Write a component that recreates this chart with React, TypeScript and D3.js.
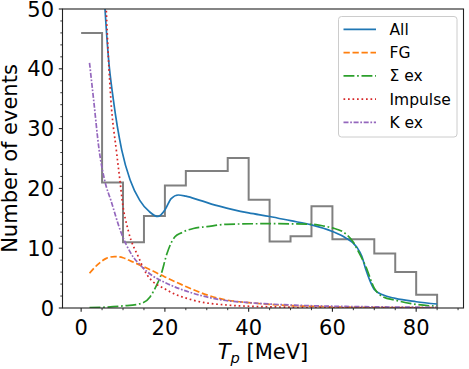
import React from "react";
import * as d3 from "d3";

const binEdges = [0, 5, 10, 15, 20, 25, 30, 35, 40, 45, 50, 55, 60, 65, 70, 75, 80, 85];
const histValues = [46, 21, 11, 15.4, 20.5, 22.9, 22.9, 25.1, 18.1, 11.1, 12.0, 17.0, 11.5, 11.5, 9.1, 6.0, 2.2];

const allT = [5.2, 5.7, 6.5, 7.7, 9.7, 11.7, 14.0, 16.3, 18.3, 20.0, 21.5, 23.2, 25, 28.4, 32, 36, 40, 45, 50, 55, 60, 63, 65.8, 67, 68, 69, 70, 72, 75, 80, 85];
const allY = [56, 50, 42, 34.8, 26.4, 21.4, 18.0, 16.1, 15.3, 16.4, 18.3, 18.9, 18.7, 18.0, 17.2, 16.5, 15.9, 15.3, 14.6, 13.9, 12.8, 11.8, 10.2, 8.7, 6.4, 4.5, 3.1, 2.2, 1.6, 1.05, 0.67];

const fgT = [2, 4, 6, 8, 10, 12, 15, 20, 25, 30, 35, 40, 45, 50, 60, 70, 85];
const fgY = [5.8, 7.3, 8.3, 8.6, 8.4, 7.8, 6.9, 5.2, 3.6, 2.2, 1.3, 0.9, 0.6, 0.4, 0.2, 0.1, 0.05];

const sigT = [2, 6, 10, 14, 16.5, 18, 18.9, 20.5, 21.5, 22.4, 24, 26.8, 30, 34.8, 45, 55, 58, 60, 63, 65, 66, 68, 70, 71, 72, 75, 80, 85];
const sigY = [0.05, 0.15, 0.35, 0.7, 1.9, 3.8, 5.2, 9.1, 10.9, 11.9, 12.6, 13.3, 13.6, 14.0, 14.1, 14.0, 13.7, 13.4, 12.5, 11.0, 9.7, 6.9, 3.3, 2.4, 1.9, 1.3, 0.6, 0.3];

const impT = [5.6, 6.0, 6.5, 7.1, 8.4, 9.3, 9.8, 11.3, 13.7, 15.7, 20.5, 26.8, 34.8, 45, 60, 85];
const impY = [58, 50, 42, 34.8, 26.4, 21.1, 18.0, 12.8, 8.5, 5.6, 3.0, 1.3, 0.5, 0.2, 0.07, 0.02];

const kexT = [2, 3.0, 4.3, 5.7, 7.1, 9.6, 12, 14.5, 17, 20.5, 26.8, 34, 40, 50, 60, 70, 85];
const kexY = [41, 34.7, 26.4, 21.1, 18.0, 12.5, 9, 6.9, 5.4, 4.1, 2.45, 1.3, 0.9, 0.5, 0.3, 0.2, 0.1];

const xTicks = [0, 20, 40, 60, 80];
const yTicks = [0, 10, 20, 30, 40, 50];
const legendLabels = ["All", "FG", "Σ ex", "Impulse", "K ex"];

const W = 469, H = 369;
const L = 62.5, R = 463.5, T = 9, B = 308;
const FONT = "DejaVu Sans, sans-serif";

export default function App() {
  const x = d3.scaleLinear().domain([-4.45, 91.3]).range([L, R]);
  const y = d3.scaleLinear().domain([0, 50]).range([B, T]);

  const mk = (ts: number[], vs: number[]) =>
    d3.line<number>().x((_, i) => x(ts[i])).y((v) => y(v)).curve(d3.curveMonotoneX)(vs) || "";

  const histPts: [number, number][] = histValues.map((v, i) => [binEdges[i], v]);
  histPts.push([binEdges[binEdges.length - 1], histValues[histValues.length - 1]]);
  histPts.push([binEdges[binEdges.length - 1], 0]);
  const histPath = d3.line<[number, number]>().x((d) => x(d[0])).y((d) => y(d[1])).curve(d3.curveStepAfter)(histPts) || "";

  const lw = 1.7;
  const series = [
    { d: mk(allT, allY), color: "#1f77b4", dash: "" },
    { d: mk(fgT, fgY), color: "#ff7f0e", dash: "6.3,2.7" },
    { d: mk(sigT, sigY), color: "#2ca02c", dash: "10.9,2.7,1.7,2.7" },
    { d: mk(impT, impY), color: "#d62728", dash: "1.7,2.8" },
    { d: mk(kexT, kexY), color: "#9467bd", dash: "5,1.7,1.7,1.7" },
  ];

  const xMinor = d3.range(-0, 95, 5).filter((v) => x(v) <= R + 0.1 && v % 20 !== 0);
  const yMinor = d3.range(0, 51, 2).filter((v) => v % 10 !== 0);

  return (
    <svg width={W} height={H} style={{ display: "block", position: "absolute", left: 0, top: 0 }} fontFamily={FONT}>
      <rect x={0} y={0} width={W} height={H} fill="white" />
      <defs>
        <clipPath id="plotclip">
          <rect x={L} y={T} width={R - L} height={B - T} />
        </clipPath>
      </defs>
      <g clipPath="url(#plotclip)">
        <path d={histPath} fill="none" stroke="#808080" strokeWidth={2} />
        {series.map((s, i) => (
          <path key={i} d={s.d} fill="none" stroke={s.color} strokeWidth={lw} strokeDasharray={s.dash || undefined} />
        ))}
      </g>
      <rect x={L} y={T} width={R - L} height={B - T} fill="none" stroke="#222" strokeWidth={1.1} />
      {xTicks.map((t) => (
        <g key={"xt" + t}>
          <line x1={x(t)} x2={x(t)} y1={B} y2={B + 3.7} stroke="#222" strokeWidth={1.1} />
          <text x={x(t)} y={335} fontSize={21} textAnchor="middle" fill="#000">{t}</text>
        </g>
      ))}
      {xMinor.map((t) => (
        <line key={"xm" + t} x1={x(t)} x2={x(t)} y1={B} y2={B + 2.2} stroke="#222" strokeWidth={0.9} />
      ))}
      {yTicks.map((t) => (
        <g key={"yt" + t}>
          <line x1={L - 3.7} x2={L} y1={y(t)} y2={y(t)} stroke="#222" strokeWidth={1.1} />
          <text x={54} y={y(t)} dy="0.36em" fontSize={21} textAnchor="end" fill="#000">{t}</text>
        </g>
      ))}
      {yMinor.map((t) => (
        <line key={"ym" + t} x1={L - 2.2} x2={L} y1={y(t)} y2={y(t)} stroke="#222" strokeWidth={0.9} />
      ))}
      <text transform={`translate(17,${(T + B) / 2}) rotate(-90)`} fontSize={21} textAnchor="middle" fill="#000">Number of events</text>
      <text x={(L + R) / 2} y={359} fontSize={21} textAnchor="middle" fill="#000">
        <tspan fontStyle="italic">T</tspan>
        <tspan fontStyle="italic" fontSize={14.7} dy={4}>p</tspan>
        <tspan dy={-4}> [MeV]</tspan>
      </text>
      <g>
        <rect x={338.5} y={16.5} width={118.5} height={120.5} rx={3} fill="white" fillOpacity={0.8} stroke="#cccccc" strokeWidth={1} />
        {legendLabels.map((lab, i) => {
          const cy = 29.3 + i * 23.25;
          return (
            <g key={lab}>
              <line x1={343.5} x2={376} y1={cy} y2={cy} stroke={series[i].color} strokeWidth={lw} strokeDasharray={series[i].dash || undefined} />
              <text x={389.5} y={cy} dy="0.36em" fontSize={15.5} fill="#000">{lab}</text>
            </g>
          );
        })}
      </g>
    </svg>
  );
}
